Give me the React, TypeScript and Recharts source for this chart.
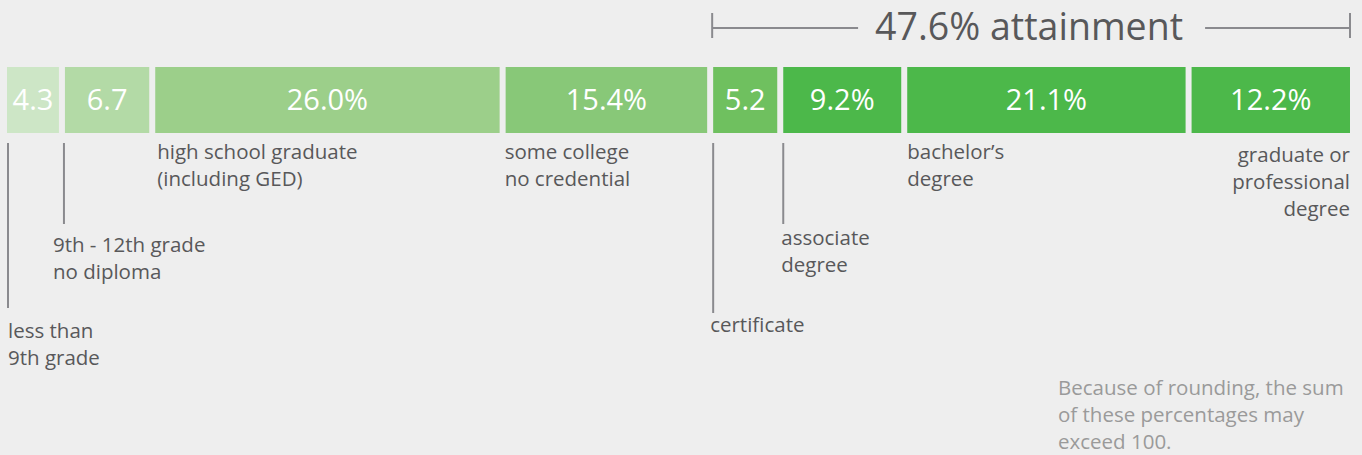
import React from 'react';
import { BarChart, Bar, XAxis, YAxis, ReferenceArea } from 'recharts';

// attainment shares, left to right
const levels = [
  'less than\n9th grade',
  '9th - 12th grade\nno diploma',
  'high school graduate\n(including GED)',
  'some college\nno credential',
  'certificate',
  'associate\ndegree',
  'bachelor\u2019s\ndegree',
  'graduate or\nprofessional\ndegree',
];
const shares = [4.3, 6.7, 26.0, 15.4, 5.2, 9.2, 21.1, 12.2];
const shareLabels = ['4.3', '6.7', '26.0%', '15.4%', '5.2', '9.2%', '21.1%', '12.2%'];
const attainmentTotal = 47.6;
const attainmentStart = 52.4;
const footnote = ['Because of rounding, the sum', 'of these percentages may', 'exceed 100.'];

const colors = ['#cde6c6', '#b3daa6', '#9ccf8a', '#88c878', '#6fc05f', '#4cb84a', '#4cb84a', '#4cb84a'];

// where each caption sits relative to its bar (line offset / caption offset / vertical placement)
const captionLayout = [
  { lineDx: 1, lineEnd: 308, textDx: 1, firstBaseline: 338, anchor: 'start' },
  { lineDx: -1, lineEnd: 224, textDx: -12, firstBaseline: 252, anchor: 'start' },
  { lineDx: null, lineEnd: 0, textDx: 2, firstBaseline: 159, anchor: 'start' },
  { lineDx: null, lineEnd: 0, textDx: -1, firstBaseline: 159, anchor: 'start' },
  { lineDx: 0, lineEnd: 313, textDx: -3, firstBaseline: 332, anchor: 'start' },
  { lineDx: 0, lineEnd: 224, textDx: -2, firstBaseline: 245, anchor: 'start' },
  { lineDx: null, lineEnd: 0, textDx: 0, firstBaseline: 159, anchor: 'start' },
  { lineDx: null, lineEnd: 0, textDx: 0, firstBaseline: 162, anchor: 'end' },
];

const BG = '#eeeeee';
const FONT = '"Open Sans", Lato, sans-serif';
const GAP = 6;

const row: Record<string, string | number> = { name: 'all' };
shares.forEach((v, i) => { row[`s${i}`] = v; });
const data = [row];

function makeShape(i: number) {
  return (props: any) => {
    const { x, y, width, height } = props;
    const left = x + GAP / 2;
    const w = Math.max(width - GAP, 0);
    const lay = captionLayout[i];
    const lines = levels[i].split('\n');
    const tx = lay.anchor === 'end' ? left + w : left + lay.textDx;
    return (
      <g>
        <rect x={left} y={y} width={w} height={height} fill={colors[i]} />
        <text
          x={left + w / 2}
          y={y + height / 2 + 10}
          textAnchor="middle"
          fill="#ffffff"
          fontSize={29}
          fontFamily={FONT}
        >
          {shareLabels[i]}
        </text>
        {lay.lineDx !== null && (
          <line
            x1={left + lay.lineDx}
            x2={left + lay.lineDx}
            y1={y + height + 10}
            y2={lay.lineEnd}
            stroke="#8a8a8e"
            strokeWidth={2}
          />
        )}
        <text textAnchor={lay.anchor} fill="#58585a" fontSize={20.5} fontFamily={FONT}>
          {lines.map((ln, k) => (
            <tspan key={k} x={tx} y={lay.firstBaseline + k * 27}>
              {ln}
            </tspan>
          ))}
        </text>
      </g>
    );
  };
}

const BracketShape = (props: any) => {
  const { x, width } = props;
  const x1 = x + GAP / 2 - 1;
  const x2 = x + width - GAP / 2;
  const cx = (x1 + x2) / 2 - 2;
  const ly = 28;
  const stroke = '#8a8a8e';
  return (
    <g>
      <line x1={x1} x2={x1} y1={13} y2={38} stroke={stroke} strokeWidth={2} />
      <line x1={x2} x2={x2} y1={13} y2={38} stroke={stroke} strokeWidth={2} />
      <line x1={x1} x2={cx - 171} y1={ly} y2={ly} stroke={stroke} strokeWidth={2} />
      <line x1={cx + 176} x2={x2} y1={ly} y2={ly} stroke={stroke} strokeWidth={2} />
      <text x={cx} y={40} textAnchor="middle" fill="#58585a" fontSize={37.5} fontFamily={FONT}>
        {`${attainmentTotal}% attainment`}
      </text>
    </g>
  );
};

export default function App() {
  return (
    <div style={{ position: 'absolute', left: 0, top: 0, width: 1362, height: 455, background: BG, overflow: 'hidden' }}>
      <BarChart
        width={1362}
        height={455}
        data={data}
        layout="vertical"
        margin={{ top: 67, right: 9, bottom: 322, left: 4 }}
        barCategoryGap={0}
        style={{ overflow: 'visible' }}
      >
        <XAxis type="number" domain={[0, 'dataMax']} hide />
        <YAxis type="category" dataKey="name" hide />
        {shares.map((_, i) => (
          <Bar
            key={i}
            dataKey={`s${i}`}
            stackId="edu"
            fill={colors[i]}
            isAnimationActive={false}
            shape={makeShape(i)}
          />
        ))}
        <ReferenceArea
          x1={attainmentStart}
          x2={attainmentStart + attainmentTotal + 0.1}
          ifOverflow="visible"
          shape={BracketShape}
        />
      </BarChart>
      <div
        style={{
          position: 'absolute',
          left: 1058,
          top: 374,
          fontFamily: FONT,
          fontSize: 20.5,
          lineHeight: '27px',
          color: '#9a9a9a',
          whiteSpace: 'nowrap',
        }}
      >
        {footnote.map((ln, k) => (
          <div key={k}>{ln}</div>
        ))}
      </div>
    </div>
  );
}
